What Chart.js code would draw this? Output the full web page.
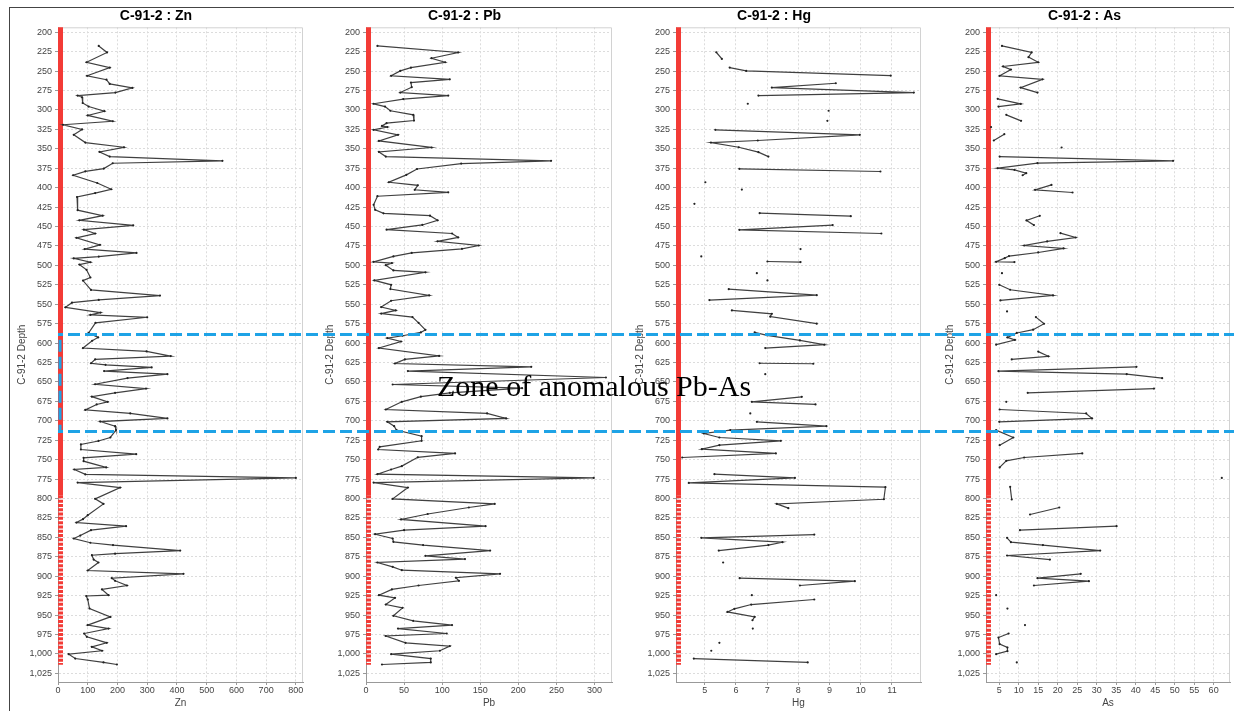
<!DOCTYPE html>
<html>
<head>
<meta charset="utf-8">
<script src="https://cdn.jsdelivr.net/npm/chart.js@4.4.0/dist/chart.umd.min.js"></script>
<style>
  body { margin: 0; background: #fff; }
  #page { position: relative; width: 1234px; height: 711px; overflow: hidden; }
  .panel { position: absolute; top: 0; height: 711px; }
  #frame { position: absolute; left: 9px; top: 7px; right: 0; bottom: 0; border-top: 1px solid #444; border-left: 1px solid #444; pointer-events: none; }
  #zone { position: absolute; left: 437px; top: 371px; font-family: "Liberation Serif", serif; font-size: 30px; line-height: 30px; color: #000; white-space: nowrap; }
</style>
</head>
<body>
<div id="page">
  <div class="panel" style="left:9px;width:308px"><canvas id="zn"></canvas></div>
  <div class="panel" style="left:317px;width:310px"><canvas id="pb"></canvas></div>
  <div class="panel" style="left:627px;width:310px"><canvas id="hg"></canvas></div>
  <div class="panel" style="left:937px;width:297px"><canvas id="as"></canvas></div>
  <div id="frame"></div>
  <div id="zone">Zone of anomalous Pb-As</div>
</div>
<script>
// depth axis
var depthTicks = [200,225,250,275,300,325,350,375,400,425,450,475,500,525,550,575,600,625,650,675,700,725,750,775,800,825,850,875,900,925,950,975,1000,1025];
var zoneTop = 588, zoneBottom = 713;
var coreSolid = [193, 796];
var coreSplit = [796, 1014];

// Zn
var znDepth = [217.6,226,238.6,245.5,256,261,266.5,271.6,277.6,281.5,283.6,291,295.6,301.6,307,314.5,319,325,332,342,348,354,360,365.5,368.6,375.4,379,384,394,402,407,412,429,436,442,448.6,454,459,464.6,473.6,479,484,488.7,491,496,499,505.7,515.6,519.6,531.6,538.9,544.5,548,554,560.8,563.8,566.8,574,587,592.7,597,606.4,610.7,616.7,621,626,628,631.4,636,640,645,653,658.5,664,669,675.6,679,686,690.6,697,701,707,712,721.5,726,730.5,737,743,747.7,752,760,762.7,769,773.5,779.5,786,800.5,807,821.5,826.6,831,835.7,840.8,847.7,851.5,857,860,867,871,873,878.6,882.4,892.7,897,902.6,906,912,917,924.5,925.5,930,941.6,952.4,963,967.4,973.8,978,985.8,991,996,1000.4,1006,1011,1013.7];
var znValue = [137,165,96,174,98,163,174,250,193,66,81,83,103,156,100,184,17,81,53,92,222,140,174,553,184,154,92,51,132,179,125,64,66,150,72,253,87,125,62,141,90,264,137,53,109,72,96,109,84,111,343,137,47,25,143,109,300,126,103,135,115,84,298,379,125,111,160,315,155,368,234,125,296,192,114,167,130,92,243,368,142,192,195,176,136,77,77,263,86,86,162,55,92,800,66,209,125,153,100,84,62,229,111,75,53,109,185,411,192,114,120,136,100,422,181,192,232,148,170,95,100,106,176,100,170,88,97,164,114,148,36,58,153,198];
var znTicks = [0,100,200,300,400,500,600,700,800];

// Pb
var pbDepth = [217.6,226,233.4,238.6,245.5,249.7,256,260.5,264.7,270.7,277.6,281.5,286,292,295.6,301,306.3,313.6,317,320.5,322,325.6,332,339.8,348.3,354,360,365.5,369,376,383.5,393,397,402.8,406,411,422,428.5,433,436,442,448,454,459,464,469,474.4,478.7,484,488.5,495.4,497,499.7,506.5,509,519.4,525,530.5,538.7,545.5,553.7,558,562,566.6,574,583,586.3,590.6,593.6,598,606.4,616.5,621,626.3,630.6,636,644.3,653.3,658,664,669,675.6,685.5,690.6,697,701.4,707,712,719.8,725.8,733.5,737,742,747,758.4,762.7,768.7,773.5,779.5,786,800.5,807,811.6,820,827,835.7,840.8,846,851.5,855.8,860,867,873.8,878,882.4,888,892.3,897,902,906,912,917,924.5,928,936.5,940.8,951,957.5,963,967.4,973.8,977,985.8,990,996,1000.4,1006,1011,1013.7];
var pbValue = [15,121,86,104,59,45,33,110,59,60,45,108,49,10,25,32,62,63,27,21,28,10,42,17,86,17,26,243,125,67,53,30,68,64,108,15,10,12,23,84,94,74,27,113,121,94,148,126,60,36,10,34,26,36,78,11,33,32,83,33,20,39,20,61,69,78,72,48,28,46,17,96,51,38,217,55,315,35,205,110,72,47,26,159,184,28,37,40,73,73,18,16,117,68,47,33,15,299,10,55,35,169,135,81,46,157,50,12,35,36,75,163,78,130,15,35,47,176,118,122,69,34,17,38,26,48,36,62,113,42,106,26,52,110,97,33,85,85,21];
var pbTicks = [0,50,100,150,200,250,300];

// Hg (null = no sample value, breaks the line)
var hgDepth = [225.7,234.3,null,245.4,249.7,255.7,null,265.6,271.2,277.6,281.5,null,292,null,301,null,314,null,325.6,332,339.3,342,348,354.3,360,null,375.8,379.2,null,393,null,402.4,null,420.8,null,432.8,436.7,null,448.2,454.2,459,null,479,null,488.5,null,495,495.8,null,510,null,519.4,null,530.6,538.3,544.7,null,558,562.3,566,575,null,586.3,590,596.6,602,606.4,null,626,626.6,null,640,null,669.2,675.6,679,null,690.6,null,701.4,707,712,716.4,721.5,725.8,731.4,736.5,742,747.3,null,768.7,773.5,780,785.5,801,807,812.5,null,846.4,850.7,856.3,860,867,null,882.4,null,902.6,906.5,912,null,924.5,null,930,936.5,942,946,952.4,956.7,null,967.4,null,985.8,null,996,null,1006,1011];
var hgValue = [5.37,5.55,null,5.80,6.33,10.96,null,9.20,7.15,11.70,6.72,null,6.38,null,8.97,null,8.93,null,5.34,9.97,6.70,5.20,6.09,6.72,7.04,null,6.11,10.63,null,5.02,null,6.19,null,4.67,null,6.76,9.68,null,9.10,6.11,10.66,null,8.07,null,4.89,null,7.01,8.07,null,6.67,null,7.01,null,5.77,8.59,5.15,null,5.87,7.15,7.10,8.59,null,6.60,7.00,8.05,8.83,6.94,null,6.76,8.48,null,6.94,null,8.11,6.51,8.55,null,6.46,null,6.67,8.90,5.82,4.97,5.47,7.44,5.47,4.91,7.28,4.28,null,5.31,7.89,4.49,10.79,10.74,7.31,7.68,null,8.51,4.89,7.49,7.04,5.45,null,5.59,null,6.12,9.81,8.05,null,6.51,null,8.51,6.49,5.95,5.73,6.60,6.53,null,6.54,null,5.47,null,5.21,null,4.65,8.30];
var hgTicks = [5,6,7,8,9,10,11];

// As
var asDepth = [217.6,226,232,238.6,244,248,256,260.5,271.2,277.6,null,285.7,292.2,295.6,null,306.3,314,null,322,null,331.2,339.3,null,348.3,null,360,365.5,368.5,375,377,381.4,384,null,396.4,402.8,406.2,null,436.2,442.2,448.2,null,458.5,464.1,469.2,474.4,478.2,483.4,488,490.7,495.4,495.8,null,510,null,525,531.4,538.7,545.1,null,559.3,null,566.6,575.1,582.8,587,592.7,596,602,null,611,617,621,null,630.6,636.2,640,645.2,null,658.5,664,null,675.6,null,685.5,690.6,697,701.4,null,712,721.5,731.4,null,742,747.3,751.6,760,null,773.5,null,785,801.3,null,811.6,820.6,null,835.7,840.8,null,850.7,856.3,860,867,873.4,878.6,null,897,902.6,906.5,912,null,924.5,null,941.7,null,963,null,973.8,979,987.5,991.8,996.5,1000.4,null,1011];
var asValue = [5.7,13.3,12.5,15.0,6.0,8.0,5.1,16.1,10.5,14.8,null,4.6,10.5,4.8,null,6.8,10.6,null,2.9,null,6.3,3.6,null,21.0,null,5.1,49.6,14.8,4.6,8.9,11.9,11.0,null,18.4,14.2,23.8,null,15.4,12.0,13.9,null,20.7,24.6,17.3,11.4,21.5,15.0,7.5,6.4,4.2,8.9,null,5.7,null,5.0,7.8,18.8,5.3,null,7.0,null,14.4,16.5,13.7,9.5,7.1,9.0,4.2,null,15.0,17.6,8.2,null,40.2,4.8,37.7,46.8,null,44.7,12.3,null,6.8,null,5.1,27.3,28.8,5.0,null,4.2,8.6,5.1,null,26.3,11.4,6.8,5.1,null,62.1,null,7.8,8.2,null,20.4,12.9,null,35.1,10.3,null,7.0,8.0,16.2,30.9,7.0,18.0,null,25.9,14.8,28.0,13.9,null,4.2,null,7.1,null,11.6,null,7.4,4.8,5.1,7.1,7.1,4.2,null,9.5];
var asTicks = [5,10,15,20,25,30,35,40,45,50,55,60];

var font = 'Liberation Sans, Arial, sans-serif';

function pts(depth, value) {
    return depth.map(function (d, i) { return { x: value[i], y: d }; });
}

// light plot frame + blue zone lines
var overlay = {
    id: 'overlay',
    beforeDatasetsDraw: function (chart) {
        var ctx = chart.ctx, a = chart.chartArea;
        ctx.save();
        ctx.strokeStyle = '#d2d2d2';
        ctx.lineWidth = 1;
        ctx.beginPath();
        ctx.moveTo(a.left, a.top + 0.5);
        ctx.lineTo(a.right - 0.5, a.top + 0.5);
        ctx.lineTo(a.right - 0.5, a.bottom);
        ctx.stroke();
        ctx.restore();
    },
    afterDraw: function (chart, args, opts) {
        var ctx = chart.ctx, a = chart.chartArea, y = chart.scales.y;
        var pageLeft = chart.canvas.parentNode.offsetLeft;
        var x0 = opts.fromPlot ? a.left : 0;
        ctx.save();
        ctx.strokeStyle = '#1ea3e6';
        ctx.lineWidth = 3;
        ctx.setLineDash([12, 5]);
        ctx.lineDashOffset = pageLeft + x0;
        [zoneTop, zoneBottom].forEach(function (d) {
            var py = Math.round(y.getPixelForValue(d)) + 0.5;
            ctx.beginPath();
            ctx.moveTo(x0, py);
            ctx.lineTo(chart.width, py);
            ctx.stroke();
        });
        if (opts.fromPlot) {
            var top = y.getPixelForValue(zoneTop) + 6;
            ctx.lineDashOffset = 0;
            ctx.beginPath();
            ctx.moveTo(a.left + 2, top);
            ctx.lineTo(a.left + 2, y.getPixelForValue(zoneBottom));
            ctx.stroke();
        }
        ctx.restore();
    }
};

function makeChart(id, name, depth, value, ticks, xMin, xMax, padRight, fromPlot) {
    new Chart(document.getElementById(id).getContext('2d'), {
        type: 'scatter',
        data: {
            datasets: [{
                data: pts(depth, value),
                showLine: true,
                spanGaps: false,
                borderColor: '#404040',
                borderWidth: 1.2,
                pointRadius: 1.1,
                pointBorderWidth: 0,
                pointBackgroundColor: '#222'
            }, {
                data: [{ x: xMin, y: coreSolid[0] }, { x: xMin, y: coreSolid[1] }],
                showLine: true,
                borderColor: '#f33b36',
                borderWidth: 10,
                pointRadius: 0,
                clip: 0
            }, {
                data: [{ x: xMin, y: coreSplit[0] }, { x: xMin, y: coreSplit[1] }],
                showLine: true,
                borderColor: '#f33b36',
                borderWidth: 10,
                borderDash: [3, 1.3],
                pointRadius: 0,
                clip: 0
            }]
        },
        options: {
            responsive: true,
            maintainAspectRatio: false,
            animation: false,
            layout: { padding: { top: 8, right: padRight, bottom: 0, left: 0 } },
            plugins: {
                legend: { display: false },
                tooltip: { enabled: false },
                title: {
                    display: true,
                    text: 'C-91-2 : ' + name,
                    color: '#000',
                    font: { family: font, size: 14, weight: 'bold' },
                    padding: { top: 0, bottom: 2.5 }
                },
                overlay: { fromPlot: fromPlot }
            },
            scales: {
                x: {
                    type: 'linear',
                    position: 'bottom',
                    min: xMin,
                    max: xMax,
                    afterBuildTicks: function (s) { s.ticks = ticks.map(function (v) { return { value: v }; }); },
                    afterFit: function (s) { s.height = 29; },
                    grid: { color: '#dcdcdc', tickLength: 3, tickColor: '#999' },
                    border: { color: '#999', dash: [2, 2] },
                    ticks: { color: '#444', font: { family: font, size: 9 }, padding: 0, maxRotation: 0, autoSkip: false },
                    title: { display: true, text: name, color: '#444', font: { family: font, size: 10 }, padding: { top: 0, bottom: 2 } }
                },
                y: {
                    type: 'linear',
                    reverse: true,
                    min: 193.6,
                    max: 1036.2,
                    afterBuildTicks: function (s) { s.ticks = depthTicks.map(function (v) { return { value: v }; }); },
                    afterFit: function (s) { s.width = 49; },
                    grid: { color: '#dcdcdc', tickLength: 3, tickColor: '#999' },
                    border: { color: '#999', dash: [2, 2] },
                    ticks: {
                        color: '#444', font: { family: font, size: 9 }, padding: 3, autoSkip: false,
                        callback: function (v) { return v.toLocaleString('en-US'); }
                    },
                    title: { display: true, text: 'C-91-2 Depth', color: '#444', font: { family: font, size: 10 }, padding: { top: 7, bottom: 0 } }
                }
            }
        },
        plugins: [overlay]
    });
}

makeChart('zn', 'Zn', znDepth, znValue, znTicks, 0, 824, 14, true);
makeChart('pb', 'Pb', pbDepth, pbValue, pbTicks, 0, 323, 15, false);
makeChart('hg', 'Hg', hgDepth, hgValue, hgTicks, 4.08, 11.93, 16, false);
makeChart('as', 'As', asDepth, asValue, asTicks, 1.6, 64.2, 2, false);
</script>
</body>
</html>
